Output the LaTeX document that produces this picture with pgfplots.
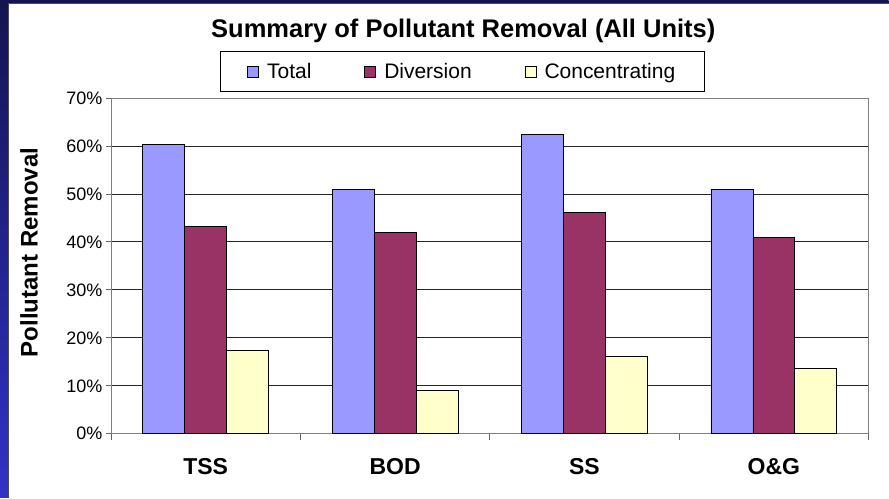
\documentclass[border=0pt]{standalone}
\usepackage{pgfplots}
\pgfplotsset{compat=1.18}
\usepackage{fontspec}
\setmainfont{Liberation Sans}
\definecolor{ctotal}{HTML}{9999FF}
\definecolor{cdiv}{HTML}{993366}
\definecolor{cconc}{HTML}{FFFFCC}
\begin{document}
\begin{tikzpicture}[x=1pt,y=1pt]
\shade[top color={rgb,255:red,20;green,20;blue,80}, bottom color={rgb,255:red,50;green,50;blue,200}] (0,0) rectangle (889,498);
\fill[white] (9,0) rectangle (889,494);
\draw[black!70, line width=0.8pt] (8.6,0) -- (8.6,494.4) -- (889,494.4);
\node[font=\fontsize{25.5}{28}\bfseries\selectfont, anchor=base] at (463.5,460.7) {Summary of Pollutant Removal (All Units)};
\node[font=\fontsize{24}{28}\bfseries\selectfont, rotate=90] at (29,245.5) {Pollutant Removal};
\begin{axis}[at={(111pt,64pt)}, anchor=south west, scale only axis, width=758pt, height=336pt,
 ybar=0pt, bar width=42pt, xmin=-0.5, xmax=3.5, ymin=0, ymax=70,
 xtick={0,1,2,3}, xticklabels={TSS,BOD,SS,O\&G}, major x tick style={draw=none},
 minor xtick={-0.5,0.5,1.5,2.5,3.5},
 xtick pos=bottom, ytick pos=left,
 ytick={0,10,...,70}, yticklabels={0\%,10\%,20\%,30\%,40\%,50\%,60\%,70\%},
 tick align=outside, major tick length=5pt, minor tick length=6pt,
 ymajorgrids, grid style={black!85, line width=0.8pt},
 axis line style={black!50, line width=0.8pt},
 tick style={black!60, line width=0.8pt},
 xticklabel style={font=\fontsize{23}{26}\bfseries\selectfont, yshift=-16pt},
 yticklabel style={font=\fontsize{18}{20}\selectfont},
 legend columns=3,
 legend style={at={(0.4637,1.079)}, anchor=center, draw=black, line width=0.8pt,
   inner xsep=27pt, inner ysep=10pt,
   font=\fontsize{21}{23}\selectfont,
   /tikz/every odd column/.append style={column sep=6pt},
   /tikz/every even column/.append style={column sep=51pt}},
 legend image code/.code={\draw[#1, draw=black, line width=0.8pt] (0pt,-5.5pt) rectangle (11pt,5.5pt);},
]
\addplot[fill=ctotal, draw=black, line width=0.8pt] coordinates {(0,60.3) (1,51.0) (2,62.3) (3,51.0)};
\addplot[fill=cdiv, draw=black, line width=0.8pt] coordinates {(0,43.3) (1,41.9) (2,46.2) (3,41.0)};
\addplot[fill=cconc, draw=black, line width=0.8pt] coordinates {(0,17.4) (1,9.0) (2,16.2) (3,13.6)};
\legend{Total,Diversion,Concentrating}
\end{axis}
\end{tikzpicture}
\end{document}
